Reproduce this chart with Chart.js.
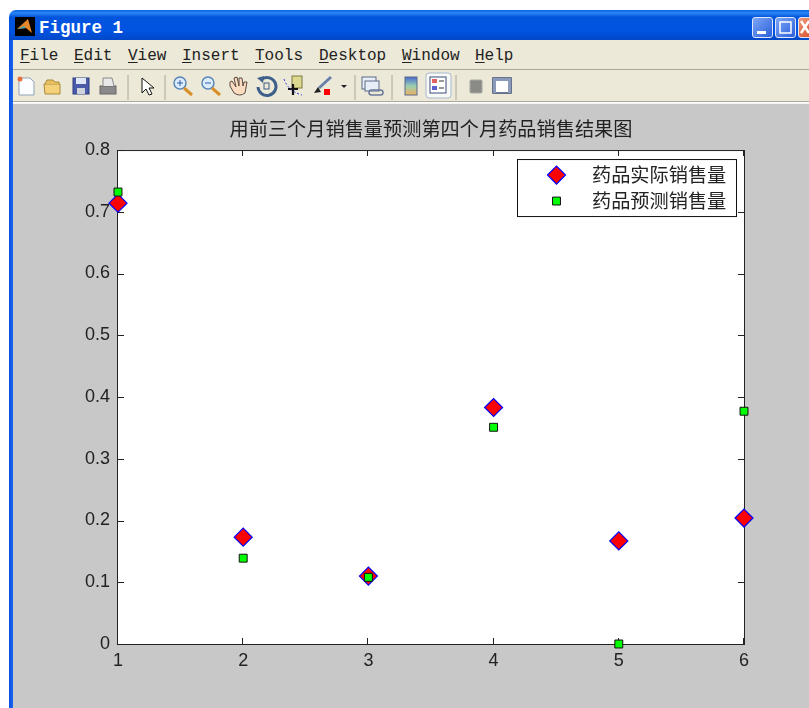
<!DOCTYPE html>
<html lang="zh">
<head>
<meta charset="UTF-8">
<title>Figure 1</title>
<script src="https://cdn.jsdelivr.net/npm/chart.js"></script>
<style>
html, body { margin: 0; padding: 0; background: #fff; overflow: hidden; }
#page { position: relative; width: 809px; height: 708px; overflow: hidden; }
#page div, #page span { position: absolute; }
#titlebar { left: 9px; top: 10px; width: 810px; height: 30px; border-radius: 7px 0 0 0;
    background: linear-gradient(#0a5fe0 0, #2a86f5 3px, #0254dc 7px, #0054e3 20px, #0248c8 30px); }
#titletext { left: 39px; top: 18px; color: #fff; font: bold 17.5px "Liberation Mono", monospace; }
#appicon { left: 15px; top: 17px; width: 20px; height: 19px; background: #000; }
#leftedge { left: 9px; top: 40px; width: 4px; height: 668px; background: linear-gradient(90deg, #0a4fe0, #1a66f0); }
#menubar { left: 13px; top: 40px; width: 796px; height: 29px; background: #ece9d8; border-bottom: 1px solid #aca899; }
#toolbar { left: 13px; top: 70px; width: 796px; height: 31px; background: #ece9d8; border-bottom: 1px solid #aca899; }
#figure { left: 13px; top: 103px; width: 796px; height: 605px; background: #c8c8c8; border-top: 1px solid #f4f4f4; box-sizing: border-box; }
.menu { top: 47px; font: 16px "Liberation Mono", monospace; color: #222; white-space: pre; }
.menu u { text-underline-offset: 2px; }
.winbtn { top: 17px; width: 19px; height: 19px; border-radius: 3px; border: 1px solid #dfe8fb;
    background: linear-gradient(135deg, #7ea6f5, #2a5fdc); }
#chart { position: absolute; left: 0; top: 103px; }
#icons { position: absolute; left: 0; top: 0; }
</style>
</head>
<body>
<div id="page">
    <div id="titlebar"></div>
    <div id="appicon"></div>
    <div id="titletext">Figure 1</div>
    <div id="leftedge"></div>
    <div class="winbtn" style="left:752px"></div>
    <div class="winbtn" style="left:775px"></div>
    <div class="winbtn" style="left:798px;background:linear-gradient(135deg,#ee9a7a,#d2451f)"></div>
    <div id="menubar"></div>
    <div id="toolbar"></div>
    <div id="figure"></div>
    <svg id="icons" width="809" height="103">
        <!-- app icon -->
        <path d="M17 29 L28 19 L32 33 L26 28 Z" fill="#e8862a"/><path d="M17 29 L24 26 L26 28 Z" fill="#3fa7b5"/>
        <!-- window buttons -->
        <rect x="757" y="31" width="9" height="3" fill="#fff"/>
        <rect x="780" y="22" width="11" height="11" fill="none" stroke="#fff" stroke-width="1.5"/>
        <path d="M801 21 L809 33 M809 21 L801 33" stroke="#fff" stroke-width="2.5"/>
        <g transform="translate(0 1)">
        <!-- new, open, save, print -->
        <path d="M19 77 H30 L34 81 V94 H19 Z" fill="#fbfdff" stroke="#8fa3b8"/>
        <circle cx="20" cy="78" r="2.5" fill="#e8703a"/>
        <path d="M44 83 H60 V93 H45 Z" fill="#f3d27a" stroke="#a8893a"/><path d="M45 83 L47 79 H53 L55 81 H59 V83" fill="#e8c060" stroke="#a8893a"/>
        <rect x="73" y="77" width="16" height="16" fill="#4a5aa8" stroke="#2c3a80"/><rect x="76" y="77" width="10" height="6" fill="#dfe6f5"/><rect x="77" y="87" width="8" height="6" fill="#cfd4dc"/>
        <rect x="100" y="85" width="16" height="8" fill="#8a8a8a" stroke="#666"/><path d="M103 85 V77 H112 L114 85" fill="#e8e8e8" stroke="#8a8a8a"/>
        <!-- arrow -->
        <path d="M142 77 V92 L146 88 L149 94 L152 93 L149 87 L154 87 Z" fill="#fff" stroke="#111"/>
        <!-- zoom in, zoom out -->
        <g transform="translate(2 0)"><circle cx="178" cy="82" r="6" fill="#dcecff" stroke="#5a86b8" stroke-width="1.5"/><path d="M182 87 L190 94" stroke="#d9902a" stroke-width="3"/><path d="M175 82 H181 M178 79 V85" stroke="#2c5aa0"/></g>
        <g transform="translate(3 0)"><circle cx="205" cy="82" r="6" fill="#dcecff" stroke="#5a86b8" stroke-width="1.5"/><path d="M209 87 L217 94" stroke="#d9902a" stroke-width="3"/><path d="M202 82 H208" stroke="#2c5aa0"/></g>
        <!-- hand -->
        <path transform="translate(2 0)" d="M228 85 L232 92 Q238 96 243 92 L245 81 L242 81 L241 85 L240 77 L237 77 L237 85 L235 76 L232 77 L234 86 L230 80 L228 81 Z" fill="#fbdcc0" stroke="#5a4a40"/>
        <!-- rotate -->
        <g transform="translate(4 0)"><path d="M258 78 A9 9 0 1 1 254 86" fill="none" stroke="#3e5f8a" stroke-width="3"/><path d="M253 77 L260 75 L259 82 Z" fill="#3e5f8a"/><rect x="260" y="82" width="5" height="6" fill="none" stroke="#3e5f8a"/></g>
        <!-- data cursor -->
        <g transform="translate(4 0)"><rect x="288" y="75" width="10" height="12" fill="#dcd890" stroke="#7a7a40"/><path d="M284 88 H294 M289 83 V94" stroke="#111" stroke-width="2.2"/><path d="M280 78 Q284 90 298 94" fill="none" stroke="#3030d0" stroke-dasharray="2 2"/></g>
        <!-- brush -->
        <g transform="translate(2 0)"><path d="M329 76 L317 87" stroke="#6a80a8" stroke-width="3"/><path d="M316 86 L312 92 L319 91 Z" fill="#222"/><rect x="322" y="88" width="6" height="6" fill="#f00"/></g>
        <path d="M341 84 H347 L344 87 Z" fill="#222"/>
        <!-- link -->
        <g transform="translate(1 0)"><rect x="361" y="76" width="14" height="12" fill="#e8eef8" stroke="#5a6a8a"/><rect x="364" y="80" width="14" height="10" fill="#e8eef8" stroke="#5a6a8a"/><rect x="368" y="89" width="14" height="5" rx="2.5" fill="none" stroke="#6a7a9a" stroke-width="1.5"/></g>
        <!-- colorbar, legend -->
        <defs><linearGradient id="cb" x1="0" y1="0" x2="0" y2="1"><stop offset="0" stop-color="#4a6ad0"/><stop offset=".5" stop-color="#9ad0b0"/><stop offset="1" stop-color="#f0b060"/></linearGradient></defs>
        <rect x="405" y="76" width="12" height="18" fill="url(#cb)" stroke="#5a6a8a"/>
        <g transform="translate(6 -1)">
        <rect x="420" y="73" width="25" height="25" rx="3" fill="#f8f8f4" stroke="#a8b8d0"/>
        <rect x="424" y="77" width="16" height="16" fill="#fff" stroke="#3a4a80"/><rect x="426" y="79" width="5" height="4" fill="#e06060"/><rect x="426" y="86" width="5" height="4" fill="#5a60d0"/><path d="M433 81 H438 M433 88 H438" stroke="#333"/>
        </g>
        <!-- hide, dock -->
        <rect x="470" y="79" width="12" height="13" rx="1" fill="#8a8a86" stroke="#a8a8a4"/>
        <g transform="translate(6 0)"><rect x="487" y="77" width="18" height="15" fill="#fff" stroke="#3a4a70" stroke-width="1.5"/><rect x="487" y="77" width="3" height="15" fill="#8a9ab8"/><rect x="502" y="77" width="3" height="15" fill="#8a9ab8"/><rect x="487" y="77" width="18" height="3" fill="#8a9ab8"/></g>
        </g>
        <!-- separators -->
        <path d="M128 75 V100 M165 75 V100 M355 75 V100 M392 75 V100 M456 75 V100" stroke="#aca899"/>
    </svg>
    <span class="menu" style="left:20px"><u>F</u>ile</span>
    <span class="menu" style="left:74px"><u>E</u>dit</span>
    <span class="menu" style="left:128px"><u>V</u>iew</span>
    <span class="menu" style="left:182px"><u>I</u>nsert</span>
    <span class="menu" style="left:255px"><u>T</u>ools</span>
    <span class="menu" style="left:319px"><u>D</u>esktop</span>
    <span class="menu" style="left:402px"><u>W</u>indow</span>
    <span class="menu" style="left:475px"><u>H</u>elp</span>
    <canvas id="chart" width="809" height="605"></canvas>
</div>
<script>
const chartTitle = '用前三个月销售量预测第四个月药品销售结果图';
const categories = [1, 2, 3, 4, 5, 6];
const actualSales = [0.714, 0.173, 0.110, 0.383, 0.167, 0.204];
const predictedSales = [0.732, 0.139, 0.108, 0.351, 0.000, 0.377];
const seriesNames = ['药品实际销售量', '药品预测销售量'];
const yTicks = [0, 0.1, 0.2, 0.3, 0.4, 0.5, 0.6, 0.7, 0.8];

const cjkFont = '"Noto Sans CJK SC", sans-serif';
const numFont = '"Liberation Sans", Arial, sans-serif';

// white axes box with matlab style inward ticks on all four sides
const axesBox = {
    id: 'axesBox',
    beforeDatasetsDraw(chart) {
        const { ctx, chartArea: a, scales: { x, y } } = chart;
        ctx.save();
        ctx.fillStyle = '#fff';
        ctx.fillRect(a.left, a.top, a.width, a.height);
        ctx.strokeStyle = '#222';
        ctx.lineWidth = 1;
        ctx.strokeRect(a.left - 0.5, a.top + 0.5, a.width + 1, a.height);
        ctx.beginPath();
        categories.forEach(c => {
            const px = Math.round(x.getPixelForValue(c)) - 0.5;
            ctx.moveTo(px, a.top); ctx.lineTo(px, a.top + 6);
            ctx.moveTo(px, a.bottom); ctx.lineTo(px, a.bottom - 6);
        });
        yTicks.forEach(t => {
            const py = Math.round(y.getPixelForValue(t)) + 0.5;
            ctx.moveTo(a.left, py); ctx.lineTo(a.left + 6, py);
            ctx.moveTo(a.right, py); ctx.lineTo(a.right - 6, py);
        });
        ctx.stroke();
        ctx.restore();
    }
};

// legend box in the top right corner of the axes
const legendBox = {
    id: 'legendBox',
    afterDatasetsDraw(chart) {
        const { ctx, chartArea: a } = chart;
        const left = a.right - 227, top = a.top + 9, w = 219, h = 57;
        ctx.save();
        ctx.fillStyle = '#fff';
        ctx.strokeStyle = '#111';
        ctx.lineWidth = 1;
        ctx.fillRect(left + 0.5, top + 0.5, w, h);
        ctx.strokeRect(left + 0.5, top + 0.5, w, h);
        ctx.font = '19.2px ' + cjkFont;
        ctx.textBaseline = 'middle';
        seriesNames.forEach((name, i) => {
            const ds = chart.data.datasets[i];
            const cy = top + 16 + i * 26;
            ctx.fillStyle = ds.backgroundColor;
            ctx.strokeStyle = ds.borderColor;
            ctx.lineWidth = ds.pointBorderWidth;
            Chart.helpers.drawPoint(ctx, {
                pointStyle: ds.pointStyle, radius: ds.pointRadius, borderWidth: ds.pointBorderWidth
            }, left + 39.5, cy);
            ctx.fillStyle = '#222';
            ctx.fillText(name, left + 75, cy);
        });
        ctx.restore();
    }
};

new Chart(document.getElementById('chart'), {
    type: 'scatter',
    data: {
        datasets: [
            {
                label: seriesNames[0],
                data: categories.map((c, i) => ({ x: c, y: actualSales[i] })),
                pointStyle: 'rectRot',
                pointRadius: 9,
                pointHoverRadius: 9,
                pointBorderWidth: 1.2,
                backgroundColor: '#ff0000',
                borderColor: '#0000ff',
                clip: false,
                order: 2
            },
            {
                label: seriesNames[1],
                data: categories.map((c, i) => ({ x: c, y: predictedSales[i] })),
                pointStyle: 'rect',
                pointRadius: 5.6,
                pointHoverRadius: 5.6,
                pointBorderWidth: 1,
                backgroundColor: '#00ff00',
                borderColor: '#111',
                clip: false,
                order: 1
            }
        ]
    },
    options: {
        responsive: false,
        animation: false,
        events: [],
        layout: { padding: { left: 70, right: 65, top: 0, bottom: 0 } },
        plugins: {
            legend: { display: false },
            tooltip: { enabled: false },
            title: {
                display: true,
                fullSize: false,
                text: chartTitle,
                color: '#222',
                font: { family: cjkFont, size: 19.2, weight: 'normal' },
                padding: { top: 14, bottom: 10 }
            }
        },
        scales: {
            x: {
                type: 'linear',
                min: 1,
                max: 6,
                grid: { display: false },
                border: { display: false },
                ticks: {
                    stepSize: 1,
                    color: '#222',
                    padding: -2,
                    maxRotation: 0,
                    font: { family: numFont, size: 18 }
                },
                afterFit(scale) { scale.height = 64; }
            },
            y: {
                min: 0,
                max: 0.8,
                grid: { display: false },
                border: { display: false },
                ticks: {
                    stepSize: 0.1,
                    color: '#222',
                    padding: 0,
                    font: { family: numFont, size: 18 },
                    callback: v => String(Math.round(v * 10) / 10)
                },
                afterFit(scale) { scale.width = 48; }
            }
        }
    },
    plugins: [axesBox, legendBox]
});
</script>
</body>
</html>
